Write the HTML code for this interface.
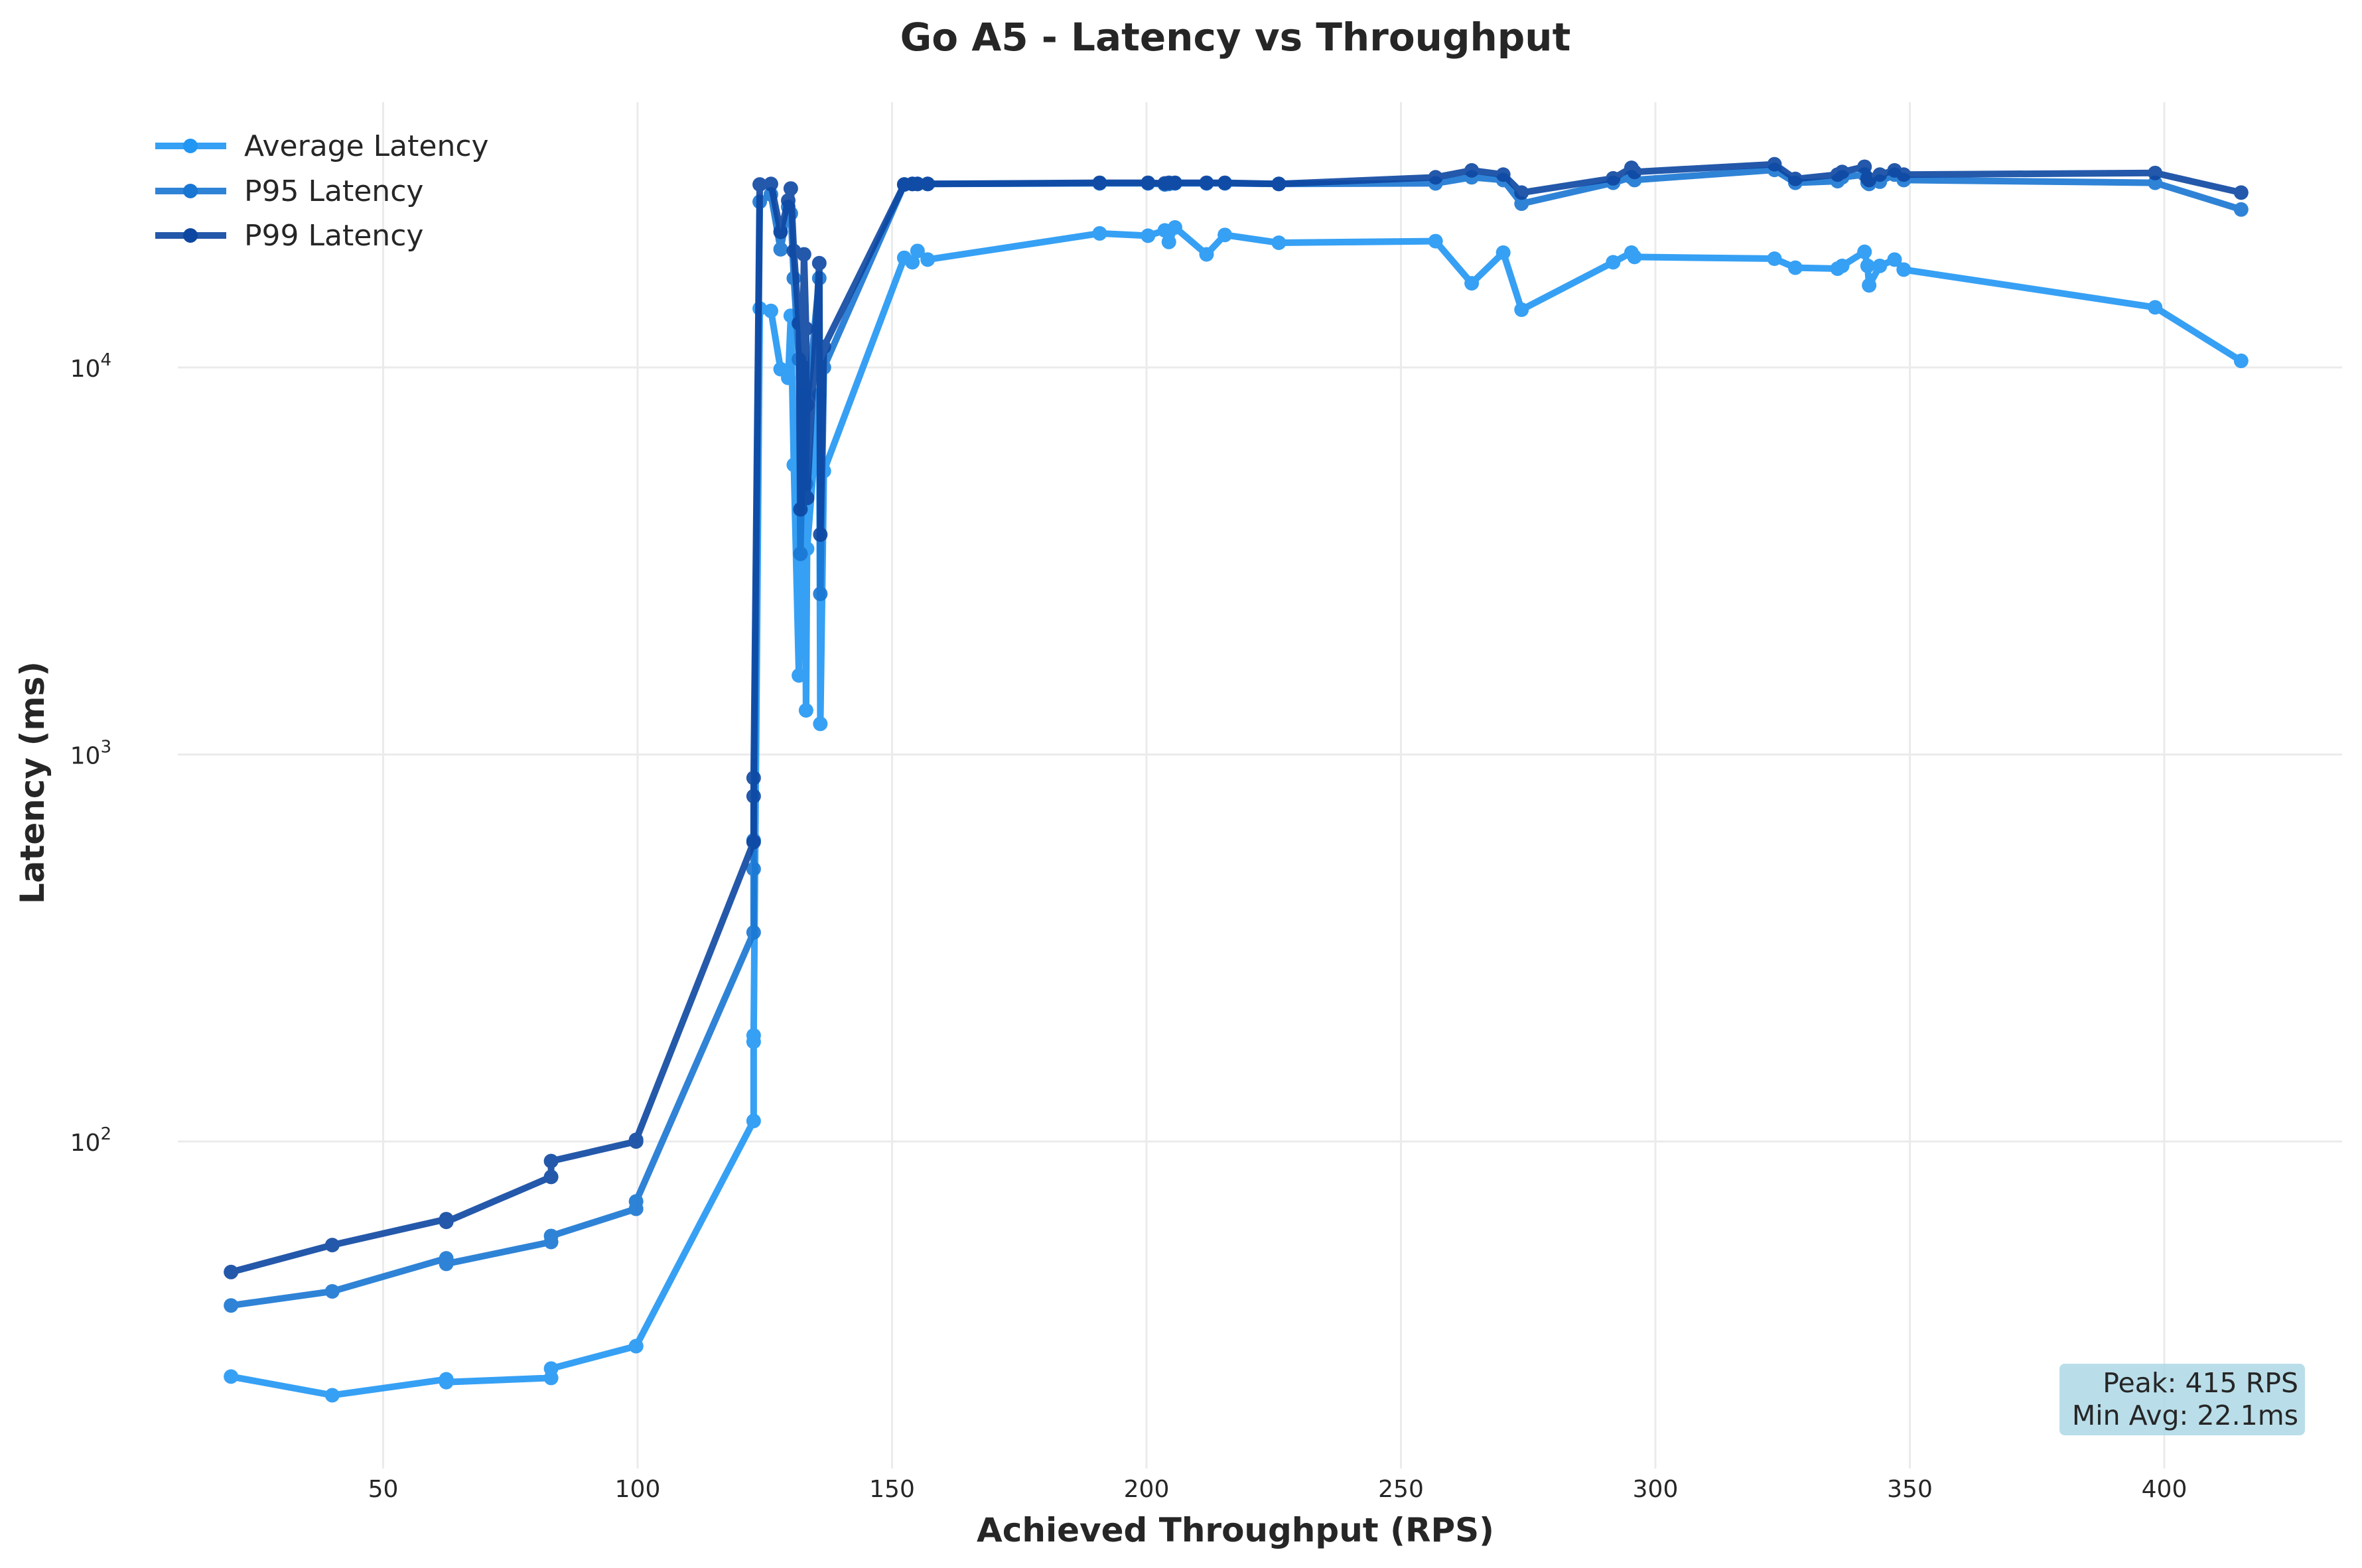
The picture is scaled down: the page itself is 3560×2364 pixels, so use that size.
<!DOCTYPE html>
<html><head><meta charset="utf-8"><style>
html,body{margin:0;padding:0;background:#fff;}
svg{display:block;font-family:"DejaVu Sans","Liberation Sans",sans-serif;}
</style></head><body>
<svg id="chart" width="3560" height="2364" viewBox="0 0 3560 2364" xmlns="http://www.w3.org/2000/svg">
<rect width="3560" height="2364" fill="#fff"/>
<text x="1862" y="76" text-anchor="middle" font-size="58" font-weight="bold" fill="#262626">Go A5 - Latency vs Throughput</text>
<g id="grid"></g>
<g id="ticks"></g>
<g id="series"></g>
<text x="1862" y="2324" text-anchor="middle" font-size="50" font-weight="bold" fill="#262626">Achieved Throughput (RPS)</text>
<text transform="translate(66,1180) rotate(-90)" text-anchor="middle" font-size="50" font-weight="bold" fill="#262626">Latency (ms)</text>
<g>
  <g>
    <line x1="234" y1="220" x2="341" y2="220" stroke="#2196F3" stroke-width="10" opacity="0.9"/>
    <circle cx="287" cy="220" r="11" fill="#2196F3"/>
    <text x="368" y="235" font-size="44" fill="#262626">Average Latency</text>
  </g>
  <g>
    <line x1="234" y1="288" x2="341" y2="288" stroke="#1976D2" stroke-width="10" opacity="0.9"/>
    <circle cx="287" cy="288" r="11" fill="#1976D2"/>
    <text x="368" y="303" font-size="44" fill="#262626">P95 Latency</text>
  </g>
  <g>
    <line x1="234" y1="355" x2="341" y2="355" stroke="#0D47A1" stroke-width="10" opacity="0.9"/>
    <circle cx="287" cy="355" r="11" fill="#0D47A1"/>
    <text x="368" y="370" font-size="44" fill="#262626">P99 Latency</text>
  </g>
</g>
<g>
  <rect x="3104" y="2056" width="370" height="108" rx="8" fill="#add8e6" opacity="0.85"/>
  <text x="3464" y="2099" text-anchor="end" font-size="41" fill="#262626">Peak: 415 RPS</text>
  <text x="3464" y="2148" text-anchor="end" font-size="41" fill="#262626">Min Avg: 22.1ms</text>
</g>
</svg>
<script>
const throughput = [20.1,40,62.4,62.4,83,83,99.7,99.7,122.8,122.8,122.8,124.0,126.2,128.1,129.6,130.1,130.7,131.7,132.0,132.7,133.1,133.3,135.7,135.9,136.6,152.4,154,155,157,190.8,200.3,203.6,204.4,205.6,211.8,215.4,226,256.8,263.9,270.1,273.7,291.7,295.3,295.9,323.4,327.5,335.8,336.7,341.1,341.7,342,344.1,347,348.8,398.2,415.1];
const avgLatency = [24.7,22.1,24.3,23.9,24.5,25.9,29.6,29.6,113,181,188,14200,14000,9900,9400,13600,5600,1600,3400,8500,1300,3400,8500,1200,5400,19200,18700,20000,19000,22200,21900,22600,21100,23000,19600,22000,21000,21200,16500,19800,14100,18700,19800,19300,19100,18100,18000,18300,19900,18300,16300,18300,19000,17900,14300,10400];
const p95Latency = [37.7,41,49.9,48.3,55,57,67,70,347,506,600,26800,28000,20200,26000,25000,17000,10500,3300,10000,5000,8000,17000,2600,10000,29700,29800,29800,29800,29900,29900,29700,29800,29900,29900,29900,29800,29900,31000,30500,26500,30000,31000,30500,32400,30000,30300,31000,31500,30000,29800,30200,31500,30500,30000,25600];
const p99Latency = [46,54,63,62,81,89,100,101,594,780,870,29700,29800,22400,27000,29000,20000,13000,4300,19600,12600,4600,18600,3700,11300,29700,29800,29800,29800,30000,30000,29900,30000,30000,30000,30000,29800,31000,32300,31500,28300,30800,32800,32000,33500,30700,31500,32000,33000,30800,30500,31500,32300,31500,31800,28300];
const xTicks = [50,100,150,200,250,300,350,400];
const yTicks = [100,1000,10000];

const NS = 'http://www.w3.org/2000/svg';
const PLOT = {left:268, right:3530, top:154, bottom:2214};
function xScale(r){ return 961 + (r - 100) * 7.67; }
function yScale(v){ return 554 - (Math.log10(v) - 4) * 583.5; }
function mk(tag, attrs, parent){
  const e = document.createElementNS(NS, tag);
  for (const k in attrs) e.setAttribute(k, attrs[k]);
  parent.appendChild(e);
  return e;
}
const grid = document.getElementById('grid');
const ticks = document.getElementById('ticks');
xTicks.forEach(t => {
  const x = xScale(t);
  const l = mk('line', {x1:x, x2:x, y1:PLOT.top, y2:PLOT.bottom, stroke:'#ebebeb', 'stroke-width':3}, grid);
  
  
  const tx = mk('text', {x:x, y:2257, 'text-anchor':'middle', 'font-size':36, fill:'#262626'}, ticks);
  tx.textContent = t;
  
  
});
yTicks.forEach(t => {
  const y = yScale(t);
  const l = mk('line', {x1:PLOT.left, x2:PLOT.right, y1:y, y2:y, stroke:'#ebebeb', 'stroke-width':3}, grid);
  
  
  const tx = mk('text', {x:168, y:y+14, 'text-anchor':'end', 'font-size':36, fill:'#262626'}, ticks);
  const exp = Math.round(Math.log10(t));
  tx.textContent = '10';
  const sup = mk('tspan', {dy:-17, 'font-size':26}, tx);
  sup.textContent = exp;
  
  
});
const seriesG = document.getElementById('series');
const seriesList = [
  {vals: avgLatency, color:'#2196F3', name:'average-latency'},
  {vals: p95Latency, color:'#1976D2', name:'p95-latency'},
  {vals: p99Latency, color:'#0D47A1', name:'p99-latency'}
];
seriesList.forEach(s => {
  const g = mk('g', {opacity:0.9}, seriesG);
  
  
  const pts = throughput.map((r, i) => xScale(r).toFixed(1) + ',' + yScale(s.vals[i]).toFixed(1)).join(' ');
  const pl = mk('polyline', {points:pts, fill:'none', stroke:s.color, 'stroke-width':10, 'stroke-linejoin':'round', 'stroke-linecap':'round'}, g);
  
  
  throughput.forEach((r, i) => {
    const c = mk('circle', {cx:xScale(r), cy:yScale(s.vals[i]), r:11, fill:s.color}, g);
    
    
  });
});
</script>
</body></html>
